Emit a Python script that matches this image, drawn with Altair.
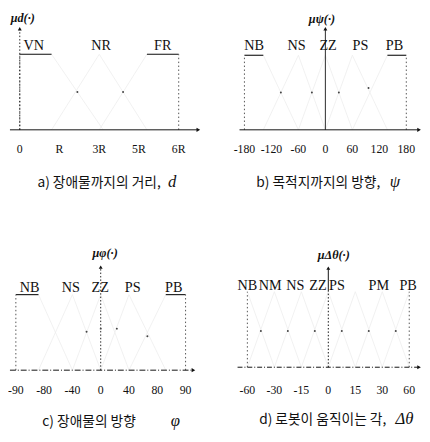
import altair as alt
import pandas as pd

# ---------------- data ----------------
# panel a : distance to obstacle
A_TICKS = ["0", "R", "3R", "5R", "6R"]
A_SETS = ["VN", "NR", "FR"]
A_SET_POS = [0.35, 2.05, 3.6]
A_MF_X = [[0, 0.8, 2.1], [0.8, 2, 3.2], [2, 3.2, 4]]
A_MF_Y = [[1, 1, 0], [0, 1, 0], [0, 1, 1]]
A_DOTS_X = [1.45, 2.6]
A_DOTS_Y = [0.5, 0.5]

# panel b : direction to goal
B_TICKS = ["-180", "-120", "-60", "0", "60", "120", "180"]
B_SETS = ["NB", "NS", "ZZ", "PS", "PB"]
B_SET_POS = [0.36, 1.93, 3.1, 4.3, 5.56]
B_MF_X = [[0, 0.7, 2], [0.7, 2, 3], [2, 3, 4], [3, 4, 5.3], [4, 5.3, 6]]
B_MF_Y = [[1, 1, 0], [0, 1, 0], [0, 1, 0], [0, 1, 0], [0, 1, 1]]
B_DOTS_X = [1.35, 2.5, 3.5, 4.6]
B_DOTS_Y = [0.5, 0.5, 0.5, 0.56]

# panel c : direction of obstacle
C_TICKS = ["-90", "-80", "-40", "0", "40", "80", "90"]
C_SETS = ["NB", "NS", "ZZ", "PS", "PB"]
C_SET_POS = [0.49, 1.94, 2.98, 4.13, 5.58]
C_MF_X = [[0, 0.8, 2], [0.8, 2, 3], [2, 3, 4], [3, 4, 5.3], [4, 5.3, 6]]
C_MF_Y = [[1, 1, 0], [0, 1, 0], [0, 1, 0], [0, 1, 0], [0, 1, 1]]
C_DOTS_X = [2.5, 3.0, 3.57, 4.65]
C_DOTS_Y = [0.51, 0.55, 0.55, 0.45]

# panel d : robot turning angle
D_TICKS = ["-60", "-30", "-15", "0", "15", "30", "60"]
D_SETS = ["NB", "NM", "NS", "ZZ", "PS", "PM", "PB"]
D_SET_POS = [0.0, 0.85, 1.78, 2.62, 3.32, 4.87, 5.96]
D_MF_X = [[0, 1], [0, 1, 2], [1, 2, 3], [2, 3, 4], [3, 4, 5], [4, 5, 6], [5, 6]]
D_MF_Y = [[1, 0], [0, 1, 0], [0, 1, 0], [0, 1, 0], [0, 1, 0], [0, 1, 0], [0, 1]]
D_DOTS_X = [0.5, 1.5, 2.5, 3.5, 4.5, 5.5]
D_DOTS_Y = [0.48, 0.48, 0.48, 0.48, 0.48, 0.48]

CAPTIONS = ["a) 장애물까지의 거리,", "b) 목적지까지의 방향,", "c) 장애물의 방향", "d) 로봇이 움직이는 각,"]
VARS = ["d", "ψ", "φ", "Δθ"]
MU = ["μd(·)", "μψ(·)", "μφ(·)", "μΔθ(·)"]

INK = "#111111"
GREY = "#555555"
SERIF = "Liberation Serif"
KOR = "Noto Sans CJK KR"


def domain_x(p0, p1, v0, v1, size):
    s = (v1 - v0) / (p1 - p0)
    return [v0 - p0 * s, v0 + (size - p0) * s]


def domain_y(p0, p1, size):
    # pixel p0 -> 0, pixel p1 -> 1 ; range is [size, 0]
    k = 1.0 / (p0 - p1)
    return [(p0 - size) * k, p0 * k]


def panel(W, H, ticks, sets, set_pos, mf_x, mf_y, dots_x, dots_y,
          xpx, ypx, xaxis_px, y_idx, ytop_px, y_style, mu, mu_px,
          set_y, tick_y, cap, cap_px, var, var_px, xaxis_dash):
    n = len(ticks) - 1
    dx = domain_x(xpx[0], xpx[1], 0, n, W)
    dy = domain_y(ypx[0], ypx[1], H)
    sx = alt.Scale(domain=dx, nice=False, zero=False)
    sy = alt.Scale(domain=dy, nice=False, zero=False)

    def X(f):
        return alt.X(f, type="quantitative", scale=sx, axis=None)

    def X2(f):
        return alt.X2(f)

    def Y(f):
        return alt.Y(f, type="quantitative", scale=sy, axis=None)

    def px2x(p):
        return dx[0] + p * (dx[1] - dx[0]) / W

    def px2y(p):
        return dy[1] - p * (dy[1] - dy[0]) / H

    rows = []
    for name, xs, ys in zip(sets, mf_x, mf_y):
        for i, (a, b) in enumerate(zip(xs, ys)):
            rows.append({"set": name, "x": a, "y": b, "o": i})
    mf = pd.DataFrame(rows)

    shoulders = []
    for xs, ys in zip(mf_x, mf_y):
        for i in range(len(xs) - 1):
            if ys[i] == 1 and ys[i + 1] == 1:
                shoulders.append({"x": xs[i], "x2": xs[i + 1], "y": 1})
    sh = pd.DataFrame(shoulders if shoulders else [{"x": 0, "x2": 0, "y": 1}])

    edges = pd.DataFrame({"x": [mf_x[0][0], mf_x[-1][-1]], "y": [0, 0], "y2": [1, 1]})

    layers = []
    # membership functions (faded in the scan)
    layers.append(alt.Chart(mf).mark_line(color="#ededed", strokeWidth=0.8).encode(
        x=X("x"), y=Y("y"), detail="set:N", order="o:Q"))
    # shoulders
    if shoulders:
        layers.append(alt.Chart(sh).mark_rule(color=INK, strokeWidth=1.1).encode(
            x=X("x"), x2=X2("x2"), y=Y("y")))
    # dotted outer verticals
    layers.append(alt.Chart(edges).mark_rule(color=GREY, strokeWidth=1, strokeDash=[1.5, 2.5]).encode(
        x=X("x"), y=Y("y"), y2=alt.Y2("y2")))
    # x axis line
    xa = pd.DataFrame({"x": [px2x(xaxis_px[0])], "x2": [px2x(xaxis_px[1] - 4)], "y": [0]})
    xkw = {"strokeDash": xaxis_dash} if xaxis_dash else {}
    layers.append(alt.Chart(xa).mark_rule(color=INK, strokeWidth=1, **xkw).encode(
        x=X("x"), x2=X2("x2"), y=Y("y")))
    xarrow = pd.DataFrame({"x": [px2x(xaxis_px[1] - 3)], "y": [0]})
    layers.append(alt.Chart(xarrow).mark_point(shape="triangle-right", filled=True, color=INK,
                                               size=18, opacity=1).encode(x=X("x"), y=Y("y")))
    # y axis line
    ytop = px2y(ytop_px + 4)
    if y_style == "split":
        ya = pd.DataFrame({"x": [y_idx, y_idx], "y": [0, 1], "y2": [1, ytop],
                           "k": ["a", "b"]})
        layers.append(alt.Chart(ya[ya.k == "a"]).mark_rule(color=INK, strokeWidth=1,
                                                             strokeDash=[1.5, 2]).encode(
            x=X("x"), y=Y("y"), y2=alt.Y2("y2")))
        layers.append(alt.Chart(ya[ya.k == "b"]).mark_rule(color=INK, strokeWidth=1).encode(
            x=X("x"), y=Y("y"), y2=alt.Y2("y2")))
    else:
        ya = pd.DataFrame({"x": [y_idx], "y": [0], "y2": [ytop]})
        ykw = {"strokeDash": [1.5, 2]} if y_style == "dot" else {}
        layers.append(alt.Chart(ya).mark_rule(color=INK, strokeWidth=0.9, **ykw).encode(
            x=X("x"), y=Y("y"), y2=alt.Y2("y2")))
    yarrow = pd.DataFrame({"x": [y_idx], "y": [px2y(ytop_px + 3)]})
    layers.append(alt.Chart(yarrow).mark_point(shape="triangle-up", filled=True, color=INK,
                                               size=16, opacity=1).encode(x=X("x"), y=Y("y")))
    # crossing dots
    dots = pd.DataFrame({"x": dots_x, "y": dots_y})
    layers.append(alt.Chart(dots).mark_circle(color="#444444", size=4, opacity=1).encode(
        x=X("x"), y=Y("y")))
    # fuzzy set labels
    sl = pd.DataFrame({"x": set_pos, "t": sets})
    layers.append(alt.Chart(sl).mark_text(font=SERIF, fontSize=14.5, color=INK,
                                          baseline="middle").encode(
        x=X("x"), y=alt.value(set_y), text="t:N"))
    # tick labels
    tl = pd.DataFrame({"x": list(range(len(ticks))), "t": ticks})
    layers.append(alt.Chart(tl).mark_text(font=SERIF, fontSize=12, color=INK,
                                          baseline="middle").encode(
        x=X("x"), y=alt.value(tick_y), text="t:N"))
    # mu label
    mul = pd.DataFrame({"t": [mu]})
    layers.append(alt.Chart(mul).mark_text(font=SERIF, fontSize=12.5, fontStyle="italic",
                                           fontWeight="bold", color=INK,
                                           baseline="middle").encode(
        x=alt.value(mu_px[0]), y=alt.value(mu_px[1]), text="t:N"))
    # caption
    cl = pd.DataFrame({"t": [cap]})
    layers.append(alt.Chart(cl).mark_text(font=KOR, fontSize=14, color=INK, align="left",
                                          baseline="middle").encode(
        x=alt.value(cap_px[0]), y=alt.value(cap_px[1]), text="t:N"))
    vl = pd.DataFrame({"t": [var]})
    layers.append(alt.Chart(vl).mark_text(font=SERIF, fontSize=17, fontStyle="italic",
                                          color=INK, align="left", baseline="middle").encode(
        x=alt.value(var_px[0]), y=alt.value(var_px[1]), text="t:N"))

    return alt.layer(*layers).properties(width=W, height=H)


pa = panel(207, 213, A_TICKS, A_SETS, A_SET_POS, A_MF_X, A_MF_Y, A_DOTS_X, A_DOTS_Y,
           xpx=(10, 172), ypx=(120, 43), xaxis_px=(0, 195), y_idx=0, ytop_px=14,
           y_style="dot", mu=MU[0], mu_px=(13, 6), set_y=35, tick_y=140,
           cap=CAPTIONS[0], cap_px=(28, 174), var=VARS[0], var_px=(161, 173),
           xaxis_dash=None)
pb = panel(213, 213, B_TICKS, B_SETS, B_SET_POS, B_MF_X, B_MF_Y, B_DOTS_X, B_DOTS_Y,
           xpx=(32, 197), ypx=(120, 44), xaxis_px=(27, 213), y_idx=3, ytop_px=14,
           y_style="solid", mu=MU[1], mu_px=(111, 7), set_y=35, tick_y=140,
           cap=CAPTIONS[1], cap_px=(44, 174), var=VARS[1], var_px=(180, 173),
           xaxis_dash=None)
pc = panel(207, 219, C_TICKS, C_SETS, C_SET_POS, C_MF_X, C_MF_Y, C_DOTS_X, C_DOTS_Y,
           xpx=(6, 179), ypx=(152, 75), xaxis_px=(0, 190), y_idx=3, ytop_px=44,
           y_style="dot", mu=MU[2], mu_px=(97, 33), set_y=68, tick_y=172,
           cap=CAPTIONS[2], cap_px=(33, 205), var=VARS[2], var_px=(164, 204),
           xaxis_dash=[6, 2, 1, 2])
pd_ = panel(213, 219, D_TICKS, D_SETS, D_SET_POS, D_MF_X, D_MF_Y, D_DOTS_X, D_DOTS_Y,
            xpx=(35, 200), ypx=(149, 72), xaxis_px=(25, 213), y_idx=3, ytop_px=45,
            y_style="split", mu=MU[3], mu_px=(123, 35), set_y=66, tick_y=172,
            cap=CAPTIONS[3], cap_px=(47, 203), var=VARS[3], var_px=(186, 202),
            xaxis_dash=[5, 2, 1, 2])

chart = alt.vconcat(
    alt.hconcat(pa, pb, spacing=0),
    alt.hconcat(pc, pd_, spacing=0),
    spacing=0,
).properties(padding=0, background="white").configure_view(stroke=None).configure_concat(spacing=0)

chart.save("out.html", embed_options={"renderer": "svg", "actions": False})
